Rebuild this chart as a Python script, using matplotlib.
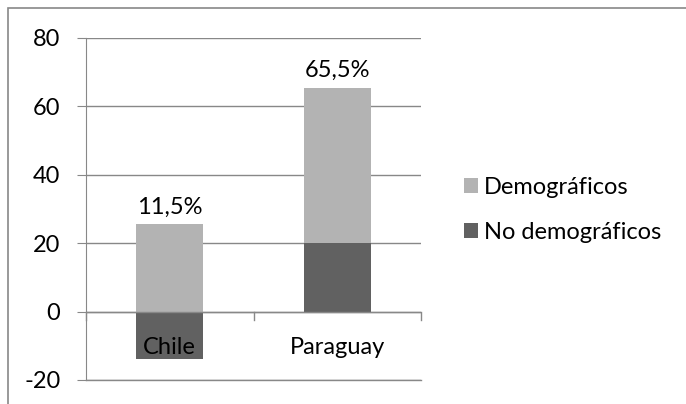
import matplotlib
matplotlib.use('Agg')
import matplotlib.pyplot as plt
from matplotlib.patches import Rectangle

categories = ['Chile', 'Paraguay']
no_demograficos = [-14, 20]
demograficos = [25.5, 45.5]
total_labels = ['11,5%', '65,5%']
y_ticks = [-20, 0, 20, 40, 60, 80]

LIGHT = '#b3b3b3'
DARK = '#616161'
GRID = '#888888'
FS = 17

plt.rcParams['font.family'] = ['Lato', 'DejaVu Sans']
plt.rcParams['axes.unicode_minus'] = False

fig = plt.figure(figsize=(6.86, 4.04), dpi=100)
ax = fig.add_axes([86 / 686, 1 - 380 / 404, (421 - 86) / 686, (380 - 38) / 404])

x = range(len(categories))
# negative values stack downward from zero, positive ones on top of the positive part
bottoms = [max(v, 0) for v in no_demograficos]
ax.bar(x, no_demograficos, width=0.4, color=DARK, label='No demográficos', zorder=3)
ax.bar(x, demograficos, width=0.4, bottom=bottoms, color=LIGHT, label='Demográficos', zorder=3)

for i, lab in enumerate(total_labels):
    top = bottoms[i] + demograficos[i]
    ax.text(i, top + 2, lab, ha='center', va='bottom', fontsize=FS)

ax.set_xlim(-0.5, 1.5)
ax.set_ylim(-20, 80)
ax.set_yticks(y_ticks)
ax.tick_params(axis='y', length=6.5, color=GRID, labelsize=FS, pad=12)
ax.yaxis.grid(True, color=GRID, linewidth=1, zorder=0)
ax.axhline(-20, color=GRID, linewidth=1, zorder=0, clip_on=False)

# category axis drawn at y=0 like Excel
ax.axhline(0, color=GRID, linewidth=1, zorder=4)
for xt in [-0.5, 0.5, 1.5]:
    ax.plot([xt, xt], [0, -2.6], color=GRID, linewidth=1, zorder=4, clip_on=False)
ax.set_xticks([])
for i, c in enumerate(categories):
    ax.text(i, -10.5, c, ha='center', va='center', fontsize=FS, zorder=5)

for s in ['top', 'right', 'bottom']:
    ax.spines[s].set_visible(False)
ax.spines['left'].set_color(GRID)

handles, labels = ax.get_legend_handles_labels()
fig.legend(handles[::-1], labels[::-1], loc='center left', bbox_to_anchor=(443 / 686, 1 - 210 / 404),
           frameon=False, fontsize=FS, handlelength=0.6, handleheight=0.6,
           handletextpad=0.25, labelspacing=1.0)

fig.patches.append(Rectangle((8 / 686, -0.05), 1.2, 1 - 8 / 404 + 0.05, transform=fig.transFigure,
                             fill=False, edgecolor=GRID, linewidth=1.2))

fig.savefig('out.png', dpi=100)
